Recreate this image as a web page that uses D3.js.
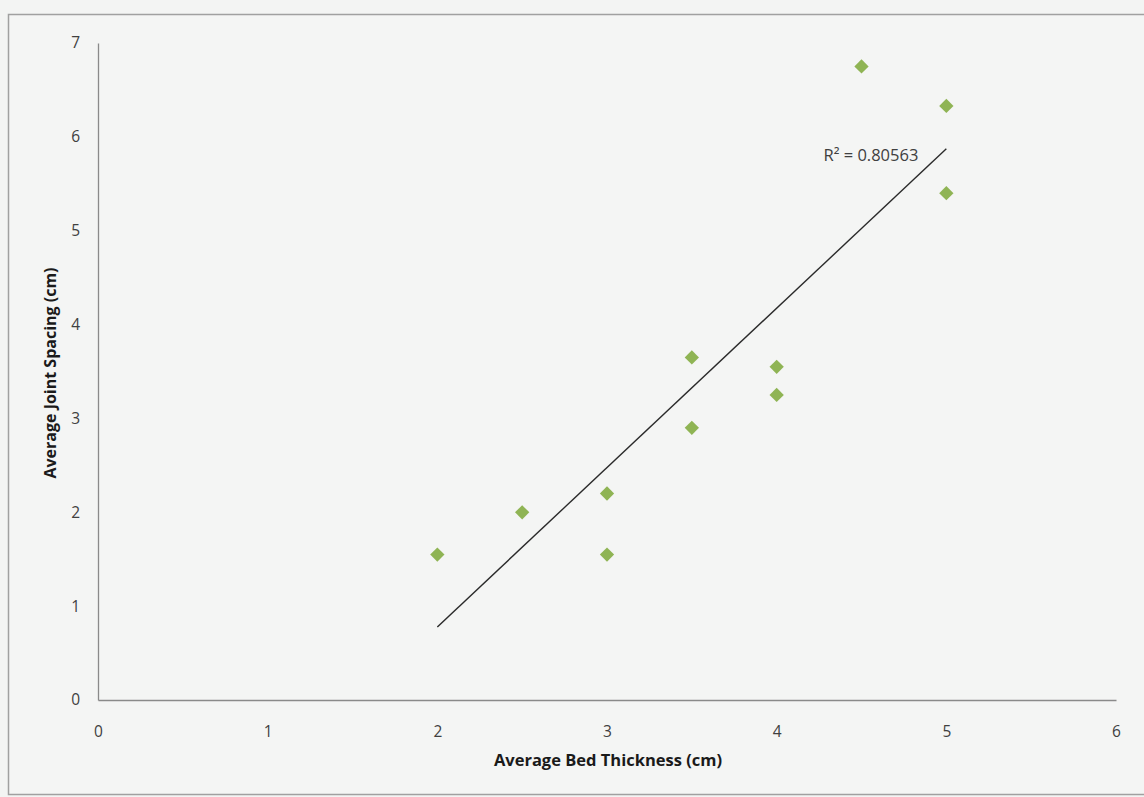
<!DOCTYPE html>
<html><head><meta charset="utf-8">
<script src="https://cdn.jsdelivr.net/npm/d3@7"></script>
<style>
html,body{margin:0;padding:0;background:#f3f4f3;}
svg{display:block;font-family:"Open Sans","Noto Sans",sans-serif;}
</style></head>
<body><svg id="c" width="1144" height="797"></svg>
<script>
const bedThickness = [2, 2.5, 3, 3, 3.5, 3.5, 4, 4, 4.5, 5, 5];
const jointSpacing = [1.55, 2.0, 2.2, 1.55, 3.65, 2.9, 3.55, 3.25, 6.75, 6.33, 5.4];
const xTicks = [0, 1, 2, 3, 4, 5, 6];
const yTicks = [0, 1, 2, 3, 4, 5, 6, 7];
const r2Label = "R² = 0.80563";
const xTitle = "Average Bed Thickness (cm)";
const yTitle = "Average Joint Spacing (cm)";

const svg = d3.select("#c");
svg.append("rect").attr("x",8.5).attr("y",14.5).attr("width",1140).attr("height",780)
  .attr("fill","#f4f5f4").attr("stroke","#a0a0a0").attr("stroke-width",1.5);

const x = d3.scaleLinear().domain([0,6]).range([98,1116]);
const y = d3.scaleLinear().domain([0,7]).range([700,43]);

const xAxis = d3.axisBottom(x).tickValues(xTicks).tickSize(0).tickPadding(25).tickFormat(d3.format("d"));
const yAxis = d3.axisLeft(y).tickValues(yTicks).tickSize(0).tickPadding(18).tickFormat(d3.format("d"));

const gx = svg.append("g").attr("transform",`translate(0,${y(0)})`).call(xAxis);
const gy = svg.append("g").attr("transform",`translate(${x(0)},0)`).call(yAxis);
[gx,gy].forEach(g=>{
  g.select(".domain").attr("stroke","#8a8a8a").attr("stroke-width",1.3);
  g.selectAll("text").attr("fill","#404040").attr("font-size",15.5).attr("font-family","'Open Sans','Noto Sans',sans-serif");
});
gx.selectAll("text").attr("dy","0.71em").attr("transform","translate(0,1)");

// regression trendline
const n = bedThickness.length;
const mx = d3.mean(bedThickness), my = d3.mean(jointSpacing);
let sxy=0, sxx=0;
for(let i=0;i<n;i++){ sxy+=(bedThickness[i]-mx)*(jointSpacing[i]-my); sxx+=(bedThickness[i]-mx)**2; }
const slope = sxy/sxx, icpt = my - slope*mx;
const x0 = d3.min(bedThickness), x1 = d3.max(bedThickness);
svg.append("line")
  .attr("x1",x(x0)).attr("y1",y(icpt+slope*x0))
  .attr("x2",x(x1)).attr("y2",y(icpt+slope*x1))
  .attr("stroke","#2a2a2a").attr("stroke-width",1.4);

svg.append("text").attr("x",x(x1)-28).attr("y",y(icpt+slope*x1)+12)
  .attr("text-anchor","end").attr("font-size",16.5).attr("fill","#404040").text(r2Label);

const sym = d3.symbol().type(d3.symbolDiamond2).size(130);
svg.append("g").selectAll("path").data(bedThickness.map((d,i)=>[d,jointSpacing[i]])).join("path")
  .attr("transform",d=>`translate(${x(d[0])},${y(d[1])})`)
  .attr("d",sym).attr("fill","#8fb454");

svg.append("text").attr("x",608).attr("y",766).attr("text-anchor","middle")
  .attr("font-size",16.5).attr("font-weight","bold").attr("fill","#1a1a1a").text(xTitle);
svg.append("text").attr("transform","translate(56,373) rotate(-90)").attr("text-anchor","middle")
  .attr("font-size",16).attr("font-weight","bold").attr("fill","#1a1a1a").text(yTitle);
</script></body></html>
